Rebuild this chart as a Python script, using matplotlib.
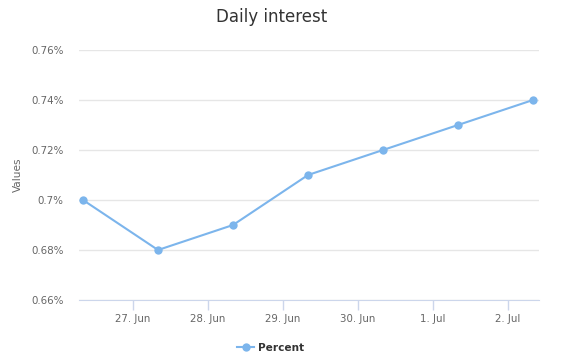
import datetime as dt

import matplotlib

matplotlib.use("Agg")
import matplotlib.dates as mdates
import matplotlib.pyplot as plt
from matplotlib.ticker import FuncFormatter

TIMES = [
    "2019-06-26 08:00",
    "2019-06-27 08:00",
    "2019-06-28 08:00",
    "2019-06-29 08:00",
    "2019-06-30 08:00",
    "2019-07-01 08:00",
    "2019-07-02 08:00",
]
PERCENT = [0.70, 0.68, 0.69, 0.71, 0.72, 0.73, 0.74]
TICK_DAYS = ["2019-06-27", "2019-06-28", "2019-06-29", "2019-06-30", "2019-07-01", "2019-07-02"]
Y_TICKS = [0.66, 0.68, 0.70, 0.72, 0.74, 0.76]

LINE_COLOR = "#7cb5ec"


def main() -> None:
    times = [dt.datetime.strptime(t, "%Y-%m-%d %H:%M") for t in TIMES]
    ticks = [dt.datetime.strptime(t, "%Y-%m-%d") for t in TICK_DAYS]

    fig = plt.figure(figsize=(5.64, 3.58), dpi=100)
    ax = fig.add_axes([79 / 564, 1 - 300 / 358, (539 - 79) / 564, 250 / 358])

    ax.plot(times, PERCENT, color=LINE_COLOR, linewidth=1.5, marker="o",
            markersize=6, markeredgewidth=0, label="Percent", zorder=3, clip_on=False)

    ax.set_xlim(dt.datetime(2019, 6, 26, 6, 43), dt.datetime(2019, 7, 2, 9, 55))
    ax.set_ylim(0.66, 0.76)
    ax.set_yticks(Y_TICKS)
    ax.yaxis.set_major_formatter(FuncFormatter(lambda v, _: f"{round(v, 4):g}%"))
    ax.set_xticks([mdates.date2num(t) for t in ticks])
    ax.xaxis.set_major_formatter(
        FuncFormatter(lambda v, _: (lambda d: f"{d.day}. {d:%b}")(mdates.num2date(v)))
    )

    ax.grid(axis="y", color="#e6e6e6", linewidth=1)
    ax.set_axisbelow(True)
    for side in ("top", "right", "left"):
        ax.spines[side].set_visible(False)
    ax.spines["bottom"].set_color("#ccd6eb")
    ax.tick_params(axis="y", length=0, pad=11, labelsize=7.4, labelcolor="#666666")
    ax.tick_params(axis="x", length=7, width=1, color="#ccd6eb", pad=3,
                   labelsize=7.4, labelcolor="#666666")

    ax.set_ylabel("Values", fontsize=7.6, color="#666666", labelpad=6)
    fig.text(272 / 564, 1 - 17 / 358, "Daily interest", ha="center", va="center",
             fontsize=12, color="#333333")
    fig.legend(loc="center", bbox_to_anchor=(271 / 564, 1 - 348 / 358), frameon=False,
               prop={"size": 7.6, "weight": "bold"}, labelcolor="#333333",
               handlelength=1.6, handletextpad=0.4)

    fig.savefig("out.png", dpi=100)


if __name__ == "__main__":
    main()
